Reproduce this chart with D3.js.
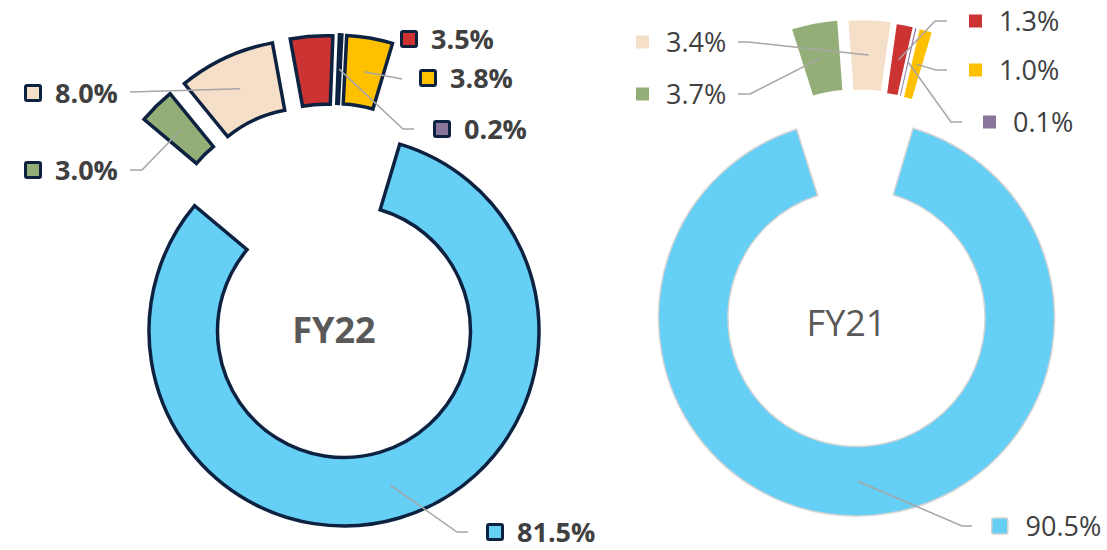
<!DOCTYPE html>
<html>
<head>
<meta charset="utf-8">
<script src="https://cdn.jsdelivr.net/npm/d3@7"></script>
<style>
    html, body { margin: 0; padding: 0; background: #fff; }
    svg { display: block; }
    text { font-family: 'Open Sans', sans-serif; fill: #404040; }
</style>
</head>
<body>
<svg id="chart" width="1107" height="550"></svg>
<script>
'use strict';

// data
const segments = ['blue', 'green', 'peach', 'red', 'purple', 'yellow'];
const fy22Values = [81.5, 3.0, 8.0, 3.5, 0.2, 3.8];
const fy21Values = [90.5, 3.7, 3.4, 1.3, 0.1, 1.0];
const yearLabels = ['FY22', 'FY21'];

const colors = ['#66cff5', '#94ae78', '#f6dfc8', '#cc3333', '#8a759a', '#ffc000'];
const firstSliceAngle = 16.6; // degrees, clockwise from 12 o'clock

const rad = deg => deg * Math.PI / 180;

const charts = [
    {
        title: yearLabels[0],
        values: fy22Values,
        cx: 344, cy: 331, outer: 195, inner: 126.5,
        stroke: '#0d2240', strokeWidth: 3.5,
        weight: 'bold', titleColor: '#595959', titleSize: 36, titleDx: -10, titleDy: -1,
        explodeDist: [0, 100, 103, 102, 102, 101],
        explodeDir: [0, -30.4, -20.7, -10.5, -6.8, -4.1],
        fontSize: 27, keySize: 15, keyStroke: 3, keyGap: 13,
        labels: [
            { x: 486, y: 532, leader: [[457, 532], [468, 532]] },
            { x: 24, y: 170, leader: [[142, 170], [130, 170]] },
            { x: 24, y: 93, leader: [[130, 92]] },
            { x: 400, y: 39, leader: null },
            { x: 433, y: 129, leader: [[403, 129], [414, 129]] },
            { x: 419, y: 78, leader: [[402, 79]] }
        ]
    },
    {
        title: yearLabels[1],
        values: fy21Values,
        cx: 856.5, cy: 318, outer: 198, inner: 128.5,
        stroke: null, strokeWidth: 0,
        weight: 'normal', titleColor: '#595959', titleSize: 36, titleDx: -10, titleDy: 5,
        explodeDist: [0, 100, 100, 98.4, 98, 97.6],
        explodeDir: [0, -2.6, 3.8, 7.5, 9, 11],
        fontSize: 27, keySize: 13, keyStroke: 0, keyGap: 17,
        labels: [
            { x: 991, y: 526, leader: [[962, 526], [972, 526]] },
            { x: 636, y: 94, leader: [[750, 94], [738, 94]] },
            { x: 636, y: 42, leader: [[748, 42], [738, 42]] },
            { x: 969, y: 21, leader: [[935, 21], [947, 21]] },
            { x: 983, y: 122, leader: [[951, 122], [962, 122]] },
            { x: 969, y: 70, leader: [[936, 70], [947, 70]] }
        ]
    }
];

const svg = d3.select('#chart');

charts.forEach(c => {
    const pie = d3.pie()
        .sort(null)
        .startAngle(rad(firstSliceAngle))
        .endAngle(rad(firstSliceAngle) + 2 * Math.PI);

    const arc = d3.arc()
        .innerRadius(c.inner)
        .outerRadius(c.outer);

    const arcs = pie(c.values);

    const offset = i => {
        const a = rad(c.explodeDir[i]);
        return [c.explodeDist[i] * Math.sin(a), -c.explodeDist[i] * Math.cos(a)];
    };

    const g = svg.append('g')
        .attr('transform', `translate(${c.cx},${c.cy})`);

    // slices
    arcs.forEach((d, i) => {
        const [dx, dy] = offset(i);
        const p = g.append('path')
            .attr('class', 'slice ' + segments[i])
            .attr('d', arc(d))
            .attr('transform', `translate(${dx},${dy})`)
            .attr('fill', colors[i]);
        if (c.stroke) {
            p.attr('stroke', c.stroke)
                .attr('stroke-width', c.strokeWidth)
                .attr('stroke-linejoin', 'miter');
        } else if (i === 0) {
            p.attr('stroke', '#d4d4d4').attr('stroke-width', 1.5);
        }
    });

    // leader lines
    arcs.forEach((d, i) => {
        const lab = c.labels[i];
        if (!lab.leader) return;
        const [dx, dy] = offset(i);
        const [mx, my] = arc.centroid(d);
        const pts = [[c.cx + mx + dx, c.cy + my + dy]].concat(lab.leader);
        svg.append('path')
            .attr('d', d3.line()(pts))
            .attr('fill', 'none')
            .attr('stroke', '#a6a6a6')
            .attr('stroke-width', 1.5);
    });

    // labels: legend key + value
    arcs.forEach((d, i) => {
        const lab = c.labels[i];
        let size = c.keySize;
        let sw = c.keyStroke;
        let stroke = c.stroke;
        if (!c.stroke && i === 0) { size = 16; sw = 1.5; stroke = '#d4d4d4'; }
        const outerSize = size + sw;
        svg.append('rect')
            .attr('x', lab.x + sw / 2)
            .attr('y', lab.y - size / 2)
            .attr('width', size)
            .attr('height', size)
            .attr('rx', sw ? 1.5 : 0)
            .attr('fill', colors[i])
            .attr('stroke', sw ? stroke : 'none')
            .attr('stroke-width', sw);

        svg.append('text')
            .attr('x', lab.x + outerSize + c.keyGap)
            .attr('y', lab.y)
            .attr('dy', '0.36em')
            .attr('font-size', c.fontSize)
            .attr('font-weight', c.weight)
            .text(d3.format('.1f')(d.data) + '%');
    });

    // centre title
    g.append('text')
        .attr('x', c.titleDx)
        .attr('y', c.titleDy)
        .attr('dy', '0.36em')
        .attr('text-anchor', 'middle')
        .attr('font-size', c.titleSize)
        .attr('font-weight', c.weight)
        .style('fill', c.titleColor)
        .text(c.title);
});
</script>
</body>
</html>
